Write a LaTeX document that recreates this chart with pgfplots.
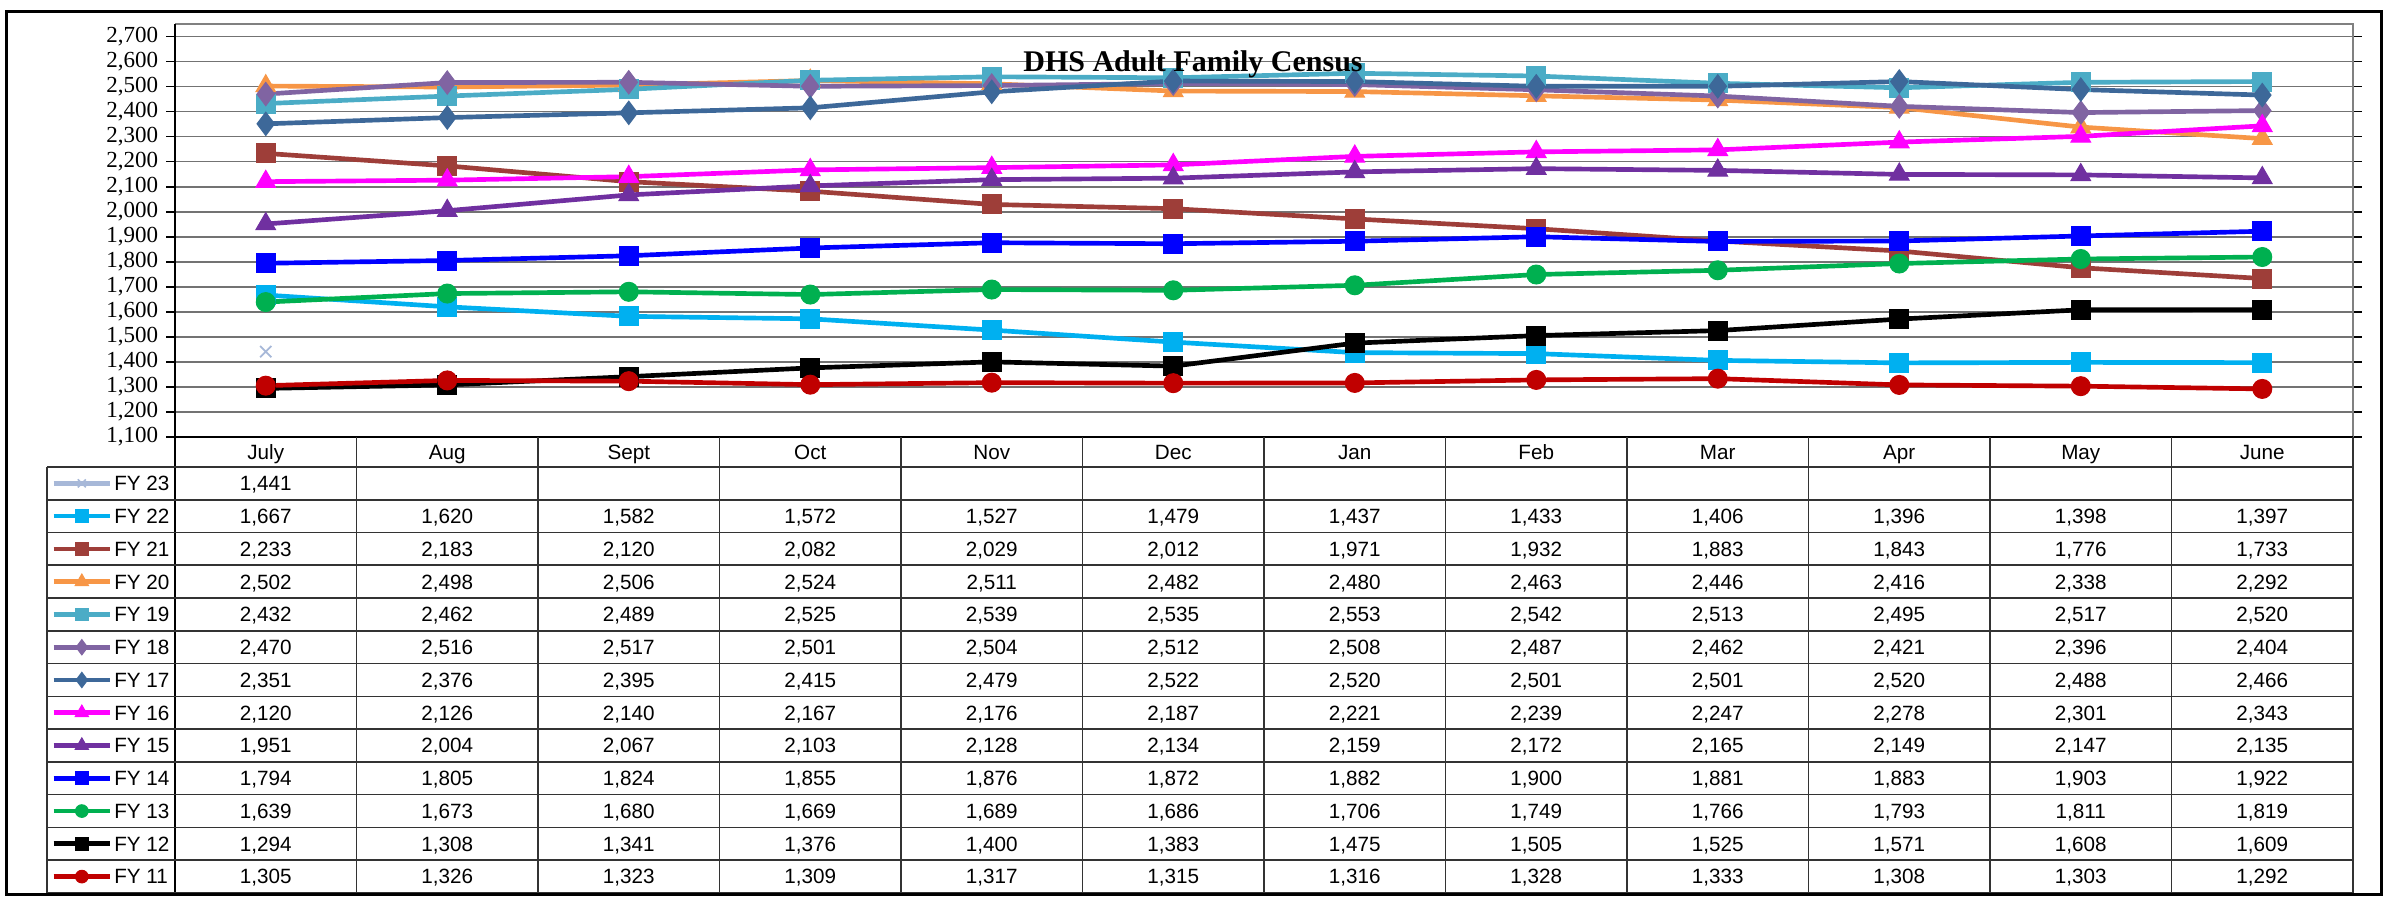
\documentclass[border=0pt]{standalone}
\usepackage{fontspec}
\setmainfont{Liberation Sans}
\newfontfamily\seriffont{Liberation Serif}
\usepackage{pgfplots}
\pgfplotsset{compat=1.18}
\usepackage{pgfplotstable}

\definecolor{c23}{HTML}{A7B8D8}
\definecolor{c22}{HTML}{00B0F0}
\definecolor{c21}{HTML}{9E3E39}
\definecolor{c20}{HTML}{F79646}
\definecolor{c19}{HTML}{4BACC6}
\definecolor{c18}{HTML}{8064A2}
\definecolor{c17}{HTML}{3D6899}
\definecolor{c16}{HTML}{FF00FF}
\definecolor{c15}{HTML}{7030A0}
\definecolor{c14}{HTML}{0000FF}
\definecolor{c13}{HTML}{00B050}
\definecolor{c12}{HTML}{000000}
\definecolor{c11}{HTML}{C00000}

\pgfplotstableread{
m fy23 fy22 fy21 fy20 fy19 fy18 fy17 fy16 fy15 fy14 fy13 fy12 fy11
0 1441 1667 2233 2502 2432 2470 2351 2120 1951 1794 1639 1294 1305
1 nan  1620 2183 2498 2462 2516 2376 2126 2004 1805 1673 1308 1326
2 nan  1582 2120 2506 2489 2517 2395 2140 2067 1824 1680 1341 1323
3 nan  1572 2082 2524 2525 2501 2415 2167 2103 1855 1669 1376 1309
4 nan  1527 2029 2511 2539 2504 2479 2176 2128 1876 1689 1400 1317
5 nan  1479 2012 2482 2535 2512 2522 2187 2134 1872 1686 1383 1315
6 nan  1437 1971 2480 2553 2508 2520 2221 2159 1882 1706 1475 1316
7 nan  1433 1932 2463 2542 2487 2501 2239 2172 1900 1749 1505 1328
8 nan  1406 1883 2446 2513 2462 2501 2247 2165 1881 1766 1525 1333
9 nan  1396 1843 2416 2495 2421 2520 2278 2149 1883 1793 1571 1308
10 nan 1398 1776 2338 2517 2396 2488 2301 2147 1903 1811 1608 1303
11 nan 1397 1733 2292 2520 2404 2466 2343 2135 1922 1819 1609 1292
}\census

\pgfplotsset{
  ln/.style={line width=1.4pt, mark options={solid, line width=0.3pt}},
  lg/.style={line width=1.4pt, mark indices={2}, mark options={solid, line width=0.3pt}},
}

\newcommand\tabcell[3]{%
  \node[anchor=base, inner sep=0pt, font=\fontsize{6.2}{7}\selectfont] at ({52.5pt+54.45pt*(#2+0.5)},{129pt-9.83pt*(#1+0.5)-2.22pt}) {#3};}
\newcommand\tabrow[2]{%
  \foreach \v [count=\c from 0] in {#2} {\tabcell{#1}{\c}{\v}}}

\begin{document}
\begin{tikzpicture}
\useasboundingbox (0,0) rectangle (716.4pt,269.1pt);

\begin{axis}[
  at={(52.5pt,138pt)}, anchor=south west,
  scale only axis, width=653.4pt, height=123.9pt,
  xmin=-0.5, xmax=11.5, ymin=1100, ymax=2750,
  xtick=\empty,
  ytick={1100,1200,...,2700},
  ymajorgrids, grid style={black!55, line width=0.5pt},
  axis line style={draw=none},
  tick align=outside, major tick length=2.6pt,
  tick style={black, line width=0.5pt},
  yticklabel style={font=\seriffont\fontsize{6.9}{7.5}\selectfont, inner sep=0pt, xshift=-2.3pt},
  /pgf/number format/1000 sep={,},
  /pgf/number format/assume math mode=true,
  clip=false,
]
\addplot[ln, color=c23, mark=x, mark size=2.4pt, mark options={line width=0.5pt}] table[x=m,y=fy23]{\census};
\addplot[ln, color=c22, mark=square*, mark size=2.85pt] table[x=m,y=fy22]{\census};
\addplot[ln, color=c21, mark=square*, mark size=2.85pt] table[x=m,y=fy21]{\census};
\addplot[ln, color=c20, mark=triangle*, mark size=3.4pt] table[x=m,y=fy20]{\census};
\addplot[ln, color=c19, mark=square*, mark size=2.85pt] table[x=m,y=fy19]{\census};
\addplot[ln, color=c18, mark=diamond*, mark size=3.5pt] table[x=m,y=fy18]{\census};
\addplot[ln, color=c17, mark=diamond*, mark size=3.5pt] table[x=m,y=fy17]{\census};
\addplot[ln, color=c16, mark=triangle*, mark size=3.4pt] table[x=m,y=fy16]{\census};
\addplot[ln, color=c15, mark=triangle*, mark size=3.4pt] table[x=m,y=fy15]{\census};
\addplot[ln, color=c14, mark=square*, mark size=2.85pt] table[x=m,y=fy14]{\census};
\addplot[ln, color=c13, mark=*, mark size=2.85pt] table[x=m,y=fy13]{\census};
\addplot[ln, color=c12, mark=square*, mark size=2.85pt] table[x=m,y=fy12]{\census};
\addplot[ln, color=c11, mark=*, mark size=2.85pt] table[x=m,y=fy11]{\census};
\end{axis}

% legend keys of the data table
\begin{axis}[
  at={(14.1pt,1.2pt)}, anchor=south west,
  scale only axis, width=38.4pt, height=127.8pt,
  xmin=14.1, xmax=52.5, ymin=0, ymax=13,
  hide axis, clip=false,
]
\addplot[lg, color=c23, mark=x, mark size=1.7pt, mark options={line width=0.5pt}] coordinates {(16.1,12.5) (24.55,12.5) (33,12.5)};
\addplot[lg, color=c22, mark=square*, mark size=1.9pt] coordinates {(16.1,11.5) (24.55,11.5) (33,11.5)};
\addplot[lg, color=c21, mark=square*, mark size=1.9pt] coordinates {(16.1,10.5) (24.55,10.5) (33,10.5)};
\addplot[lg, color=c20, mark=triangle*, mark size=2.3pt] coordinates {(16.1,9.5) (24.55,9.5) (33,9.5)};
\addplot[lg, color=c19, mark=square*, mark size=1.9pt] coordinates {(16.1,8.5) (24.55,8.5) (33,8.5)};
\addplot[lg, color=c18, mark=diamond*, mark size=2.3pt] coordinates {(16.1,7.5) (24.55,7.5) (33,7.5)};
\addplot[lg, color=c17, mark=diamond*, mark size=2.3pt] coordinates {(16.1,6.5) (24.55,6.5) (33,6.5)};
\addplot[lg, color=c16, mark=triangle*, mark size=2.3pt] coordinates {(16.1,5.5) (24.55,5.5) (33,5.5)};
\addplot[lg, color=c15, mark=triangle*, mark size=2.3pt] coordinates {(16.1,4.5) (24.55,4.5) (33,4.5)};
\addplot[lg, color=c14, mark=square*, mark size=1.9pt] coordinates {(16.1,3.5) (24.55,3.5) (33,3.5)};
\addplot[lg, color=c13, mark=*, mark size=1.9pt] coordinates {(16.1,2.5) (24.55,2.5) (33,2.5)};
\addplot[lg, color=c12, mark=square*, mark size=1.9pt] coordinates {(16.1,1.5) (24.55,1.5) (33,1.5)};
\addplot[lg, color=c11, mark=*, mark size=1.9pt] coordinates {(16.1,0.5) (24.55,0.5) (33,0.5)};
\end{axis}

% plot area frame
\draw[black!50, line width=0.6pt] (52.5pt,261.9pt) -- (705.9pt,261.9pt) -- (705.9pt,138pt);
\draw[black, line width=0.6pt] (52.5pt,261.9pt) -- (52.5pt,138pt) -- (705.9pt,138pt);

% table grid
\foreach \k in {1,...,12} {
  \draw[black!80, line width=0.5pt] ({52.5pt+54.45pt*\k},138pt) -- ({52.5pt+54.45pt*\k},1.2pt);
}
\draw[black, line width=0.5pt] (52.5pt,138pt) -- (52.5pt,1.2pt);
\foreach \r in {0,...,13} {
  \draw[black!80, line width=0.5pt] (14.1pt,{129pt-9.83pt*\r}) -- (705.9pt,{129pt-9.83pt*\r});
}
\draw[black!80, line width=0.5pt] (14.1pt,129pt) -- (14.1pt,1.2pt);

% header row
\foreach \mo [count=\c from 0] in {July,Aug,Sept,Oct,Nov,Dec,Jan,Feb,Mar,Apr,May,June} {
  \node[anchor=base, inner sep=0pt, font=\fontsize{6.2}{7}\selectfont] at ({52.5pt+54.45pt*(\c+0.5)},131.3pt) {\mo};
}

% row labels
\foreach \nm [count=\r from 0] in {FY 23,FY 22,FY 21,FY 20,FY 19,FY 18,FY 17,FY 16,FY 15,FY 14,FY 13,FY 12,FY 11} {
  \node[anchor=base west, inner sep=0pt, font=\fontsize{6.2}{7}\selectfont] at (34.1pt,{129pt-9.83pt*(\r+0.5)-2.22pt}) {\nm};
}

% values
\tabcell{0}{0}{1,441}
\tabrow{1}{{1,667},{1,620},{1,582},{1,572},{1,527},{1,479},{1,437},{1,433},{1,406},{1,396},{1,398},{1,397}}
\tabrow{2}{{2,233},{2,183},{2,120},{2,082},{2,029},{2,012},{1,971},{1,932},{1,883},{1,843},{1,776},{1,733}}
\tabrow{3}{{2,502},{2,498},{2,506},{2,524},{2,511},{2,482},{2,480},{2,463},{2,446},{2,416},{2,338},{2,292}}
\tabrow{4}{{2,432},{2,462},{2,489},{2,525},{2,539},{2,535},{2,553},{2,542},{2,513},{2,495},{2,517},{2,520}}
\tabrow{5}{{2,470},{2,516},{2,517},{2,501},{2,504},{2,512},{2,508},{2,487},{2,462},{2,421},{2,396},{2,404}}
\tabrow{6}{{2,351},{2,376},{2,395},{2,415},{2,479},{2,522},{2,520},{2,501},{2,501},{2,520},{2,488},{2,466}}
\tabrow{7}{{2,120},{2,126},{2,140},{2,167},{2,176},{2,187},{2,221},{2,239},{2,247},{2,278},{2,301},{2,343}}
\tabrow{8}{{1,951},{2,004},{2,067},{2,103},{2,128},{2,134},{2,159},{2,172},{2,165},{2,149},{2,147},{2,135}}
\tabrow{9}{{1,794},{1,805},{1,824},{1,855},{1,876},{1,872},{1,882},{1,900},{1,881},{1,883},{1,903},{1,922}}
\tabrow{10}{{1,639},{1,673},{1,680},{1,669},{1,689},{1,686},{1,706},{1,749},{1,766},{1,793},{1,811},{1,819}}
\tabrow{11}{{1,294},{1,308},{1,341},{1,376},{1,400},{1,383},{1,475},{1,505},{1,525},{1,571},{1,608},{1,609}}
\tabrow{12}{{1,305},{1,326},{1,323},{1,309},{1,317},{1,315},{1,316},{1,328},{1,333},{1,308},{1,303},{1,292}}

% outer frame
\draw[black, line width=0.9pt] (1.8pt,0.6pt) rectangle (714.3pt,265.5pt);

% title
\node[anchor=base, inner sep=0pt, font=\seriffont\bfseries\fontsize{9}{10}\selectfont] at (357.9pt,247.5pt) {DHS Adult Family Census};
\end{tikzpicture}
\end{document}
